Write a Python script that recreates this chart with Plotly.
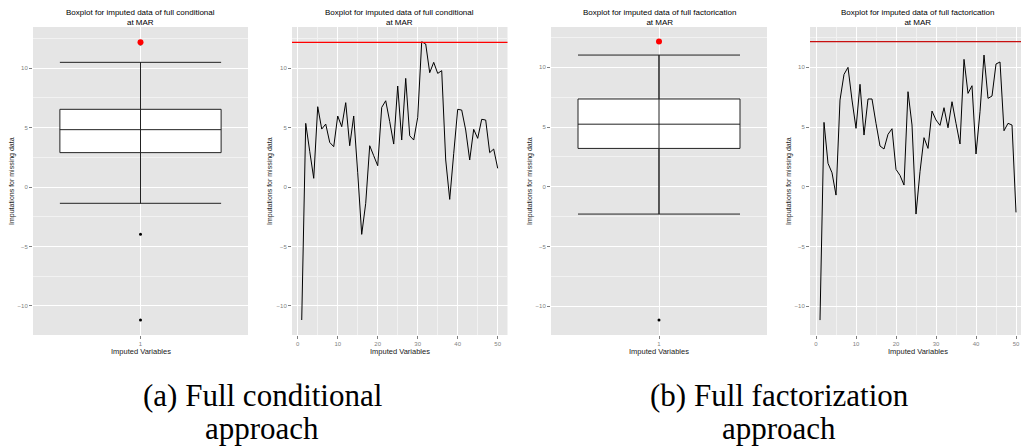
import plotly.graph_objects as go
import numpy as np

# ---------------- data ----------------
imputed_idx = list(range(1, 51))
full_conditional = [-11.18, 5.35, 3.0, 0.73, 6.75, 4.87, 5.29, 3.75, 3.39, 5.97,
                    5.07, 7.09, 3.47, 5.97, 1.2, -3.98, -1.37, 3.47, 2.63, 1.79,
                    6.69, 7.25, 5.5, 3.61, 8.49, 3.95, 9.13, 4.31, 3.95, 5.85,
                    12.21, 12.02, 9.61, 10.48, 9.55, 9.78, 2.27, -1.04, 2.8, 6.53,
                    6.47, 4.79, 2.27, 4.85, 4.09, 5.69, 5.63, 2.89, 3.19, 1.57]
full_factorization = [-11.17, 5.39, 1.96, 1.17, -0.70, 7.26, 9.41, 10.0, 7.26, 4.89,
                      8.58, 4.33, 7.35, 7.35, 5.31, 3.41, 3.16, 4.39, 4.86, 1.45,
                      0.95, 0.14, 7.96, 5.17, -2.29, 1.26, 4.11, 3.21, 6.34, 5.59,
                      5.14, 6.62, 4.94, 7.12, 5.31, 3.58, 10.67, 7.82, 8.46, 2.74,
                      6.28, 11.03, 7.40, 7.60, 10.28, 10.45, 4.69, 5.31, 5.17, -2.15]
true_value = 12.16
box_category = [1]
titles = ["Boxplot for imputed data of full conditional<br>at MAR",
          "Boxplot for imputed data of full conditional<br>at MAR",
          "Boxplot for imputed data of full factorication<br>at MAR",
          "Boxplot for imputed data of full factorication<br>at MAR"]
captions = [("(a) Full conditional", "approach"),
            ("(b) Full factorization", "approach")]
y_title = "Imputations for missing data"
x_title = "Imputed Variables"

# ---------------- layout helpers ----------------
W, H = 1021, 447
def px(x):
    return x / W
def py(y):
    return 1 - y / H

BG = "#E5E5E5"
MINOR = "#F2F2F2"
TICKC = "#7F7F7F"
FONT = "Liberation Sans"

fig = go.Figure()

def whisker_ends(vals):
    v = np.array(vals)
    q1, q3 = np.percentile(v, [25, 75])
    iqr = q3 - q1
    lo = v[v >= q1 - 1.5 * iqr].min()
    hi = v[v <= q3 + 1.5 * iqr].max()
    return lo, hi

panels = [
    dict(kind="box", data=full_conditional, xd=(33, 248), yr=(-12.44, 13.45)),
    dict(kind="line", data=full_conditional, xd=(292, 507.5), yr=(-12.44, 13.45), xr=(-1.43, 52.45)),
    dict(kind="box", data=full_factorization, xd=(551, 767), yr=(-12.42, 13.38)),
    dict(kind="line", data=full_factorization, xd=(810, 1021), yr=(-12.42, 13.38), xr=(-1.5, 51.25)),
]

ytop, ybot = 27, 335
annotations = []
shapes = []
for i, p in enumerate(panels):
    n = i + 1
    xa = "x" if n == 1 else f"x{n}"
    ya = "y" if n == 1 else f"y{n}"
    xkey = "xaxis" if n == 1 else f"xaxis{n}"
    ykey = "yaxis" if n == 1 else f"yaxis{n}"
    vals = p["data"]
    if p["kind"] == "box":
        lo, hi = whisker_ends(vals)
        fig.add_trace(go.Box(y=vals, x=box_category * len(vals), width=0.9,
                             fillcolor="white", line=dict(color="#222222", width=1),
                             whiskerwidth=1, boxpoints="outliers", jitter=0, pointpos=0,
                             marker=dict(color="black", size=3),
                             xaxis=xa, yaxis=ya, showlegend=False))
        fig.add_trace(go.Scatter(x=box_category * 2, y=[lo, hi], mode="lines",
                                 line=dict(color="#222222", width=1),
                                 xaxis=xa, yaxis=ya, showlegend=False, hoverinfo="skip"))
        fig.add_trace(go.Scatter(x=box_category, y=[true_value], mode="markers",
                                 marker=dict(color="red", size=6),
                                 xaxis=xa, yaxis=ya, showlegend=False))
        fig.layout[xkey] = dict(range=[0.4, 1.6], tickvals=box_category,
                                ticktext=[str(c) for c in box_category])
    else:
        fig.add_trace(go.Scatter(x=imputed_idx, y=vals, mode="lines",
                                 line=dict(color="black", width=1),
                                 xaxis=xa, yaxis=ya, showlegend=False))
        shapes.append(dict(type="line", xref=f"{xa} domain", yref=ya, x0=0, x1=1,
                           y0=true_value, y1=true_value,
                           line=dict(color="red" if n == 2 else "#C81010", width=1.2)))
        fig.layout[xkey] = dict(range=list(p["xr"]), tick0=0, dtick=10,
                                minor=dict(dtick=5, tick0=0, showgrid=True,
                                           gridcolor=MINOR, gridwidth=0.6))
    fig.layout[xkey].update(domain=[px(p["xd"][0]), px(p["xd"][1])], anchor=ya,
                            automargin=False,
                            showgrid=True, gridcolor="white", gridwidth=1,
                            zeroline=False, showline=False, ticks="outside",
                            ticklen=3, tickwidth=0.6, tickcolor=TICKC,
                            tickfont=dict(family=FONT, size=6, color=TICKC))
    fig.layout[ykey] = dict(domain=[py(ybot), py(ytop)], anchor=xa, range=list(p["yr"]),
                            automargin=False,
                            tick0=0, dtick=5, showgrid=True, gridcolor="white", gridwidth=1,
                            minor=dict(dtick=2.5, tick0=0, showgrid=True,
                                       gridcolor=MINOR, gridwidth=0.6),
                            zeroline=False, showline=False, ticks="outside",
                            ticklen=3, tickwidth=0.6, tickcolor=TICKC,
                            tickfont=dict(family=FONT, size=6, color=TICKC))
    shapes.append(dict(type="rect", xref=f"{xa} domain", yref=f"{ya} domain",
                       x0=0, x1=1, y0=0, y1=1, fillcolor=BG, line=dict(width=0),
                       layer="below"))
    xc = (p["xd"][0] + p["xd"][1]) / 2
    if n == 4:
        xc = (810 + 1025.8) / 2
    annotations.append(dict(text=titles[i], x=px(xc), y=py(17), xref="paper", yref="paper",
                            showarrow=False, xanchor="center", yanchor="middle",
                            font=dict(family=FONT, size=8, color="black")))
    annotations.append(dict(text=x_title, x=px(xc), y=py(351.5), xref="paper", yref="paper",
                            showarrow=False, xanchor="center", yanchor="middle",
                            font=dict(family=FONT, size=7.5, color="#1A1A1A")))
    ytx = [12, 270, 530, 789][i]
    annotations.append(dict(text=y_title, x=px(ytx), y=py(181), xref="paper", yref="paper",
                            showarrow=False, textangle=-90, xanchor="center", yanchor="middle",
                            font=dict(family=FONT, size=7, color="#1A1A1A")))

for (l1, l2), cx in zip(captions, [262, 779]):
    annotations.append(dict(text=l1, x=px(cx), y=py(395), xref="paper", yref="paper",
                            showarrow=False, xanchor="center", yanchor="middle",
                            font=dict(family="Liberation Serif", size=31, color="black")))
    annotations.append(dict(text=l2, x=px(cx), y=py(428), xref="paper", yref="paper",
                            showarrow=False, xanchor="center", yanchor="middle",
                            font=dict(family="Liberation Serif", size=31, color="black")))

fig.update_layout(width=W, height=H, margin=dict(l=0, r=0, t=0, b=0, autoexpand=False),
                  paper_bgcolor="white", plot_bgcolor="rgba(0,0,0,0)",
                  annotations=annotations, shapes=shapes, showlegend=False)

fig.write_html("out.html", config={"displayModeBar": False},
               post_script="document.body.style.margin='0px';"
                           "document.body.style.overflow='hidden';")
